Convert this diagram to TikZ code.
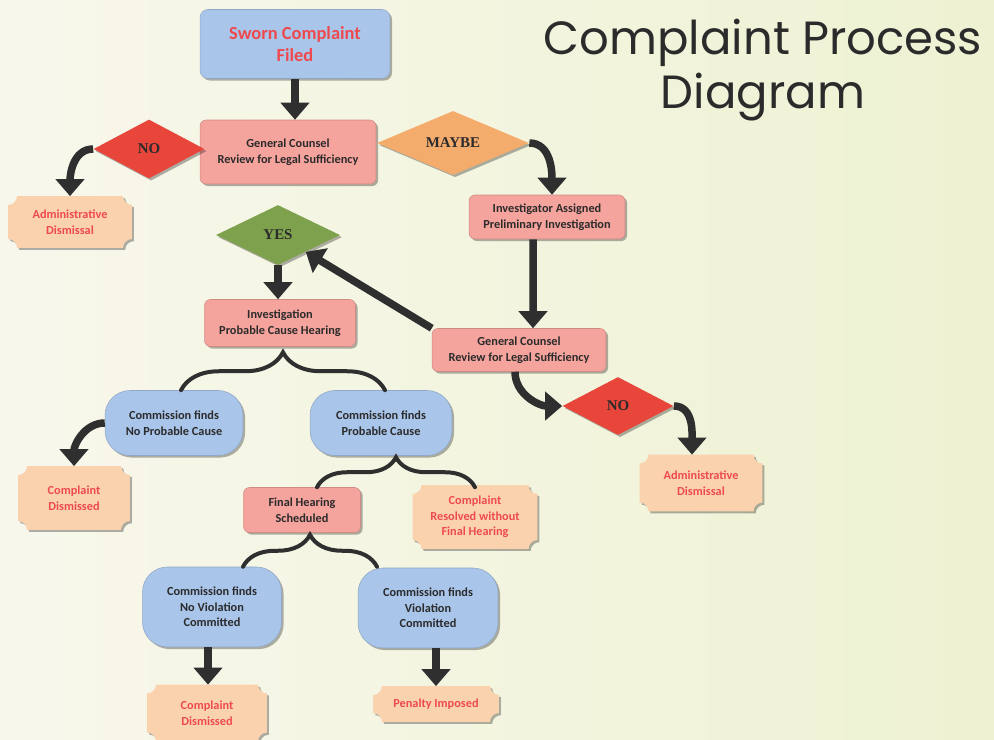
\documentclass[tikz,border=0pt]{standalone}
\usepackage{fontspec}
\setmainfont{Carlito}
\newfontfamily\titlefont{Poppins}
\newfontfamily\choicefont{Liberation Serif}
\usepackage{tikz}
\usetikzlibrary{arrows.meta, positioning, shapes.geometric, shadows, decorations.pathreplacing, calc}

\definecolor{boxblue}{HTML}{A9C5EA}
\definecolor{boxpink}{HTML}{F5A39D}
\definecolor{boxpeach}{HTML}{FAD3AE}
\definecolor{txtred}{HTML}{EE4A4E}
\definecolor{txtdark}{HTML}{2B2B2B}
\definecolor{noRed}{HTML}{E8453B}
\definecolor{maybeOrange}{HTML}{F4AC6C}
\definecolor{yesGreen}{HTML}{7EA14D}
\definecolor{arrowgray}{HTML}{2F2F2F}
\definecolor{bgleft}{HTML}{F8F7EC}
\definecolor{bgright}{HTML}{EEF2D2}

\pgfdeclarelayer{bg}
\pgfsetlayers{bg,main}

% peach boxes with hollow corners
\newcommand{\plaque}[1]{%
  \fill[plqfill] ([xshift=5pt]#1.north west) -- ([xshift=-5pt]#1.north east)
    .. controls ([shift={(-5pt,-2.75pt)}]#1.north east) and ([shift={(-2.75pt,-5pt)}]#1.north east) .. ([yshift=-5pt]#1.north east)
    -- ([yshift=5pt]#1.south east)
    .. controls ([shift={(-2.75pt,5pt)}]#1.south east) and ([shift={(-5pt,2.75pt)}]#1.south east) .. ([xshift=-5pt]#1.south east)
    -- ([xshift=5pt]#1.south west)
    .. controls ([shift={(5pt,2.75pt)}]#1.south west) and ([shift={(2.75pt,5pt)}]#1.south west) .. ([yshift=5pt]#1.south west)
    -- ([yshift=-5pt]#1.north west)
    .. controls ([shift={(2.75pt,-5pt)}]#1.north west) and ([shift={(5pt,-2.75pt)}]#1.north west) .. ([xshift=5pt]#1.north west)
    -- cycle;}

\begin{document}
\begin{tikzpicture}[
  x=0.02cm, y=-0.02cm,
  soft/.style={drop shadow={shadow xshift=1.2pt, shadow yshift=-1.2pt, opacity=0.3, fill=black}},
  base/.style={align=center, inner sep=2pt, text=txtdark,
              font=\fontsize{7}{8.8}\selectfont\bfseries},
  pinkbox/.style={base, soft, fill=boxpink, draw=boxpink!85!black, line width=0.3pt,
              rounded corners=0.12cm},
  bluebox/.style={base, soft, fill=boxblue, draw=boxblue!85!black, line width=0.3pt,
              rounded corners=0.5cm},
  plq/.style={base, text=txtred},
  plqfill/.style={boxpeach, soft},
  choice/.style={diamond, soft, inner sep=0pt, text=txtdark,
              font=\choicefont\fontsize{8.5}{10}\selectfont\bfseries},
  arr/.style={-{Triangle[width=0.56cm, length=0.34cm]}, line width=0.15cm, arrowgray},
  brc/.style={decorate, decoration={brace, amplitude=#1}, line width=0.08cm,
              arrowgray, line cap=round},
  title/.style={align=center, text=txtdark, font=\titlefont\fontsize{26.5}{31}\selectfont}
]
\useasboundingbox (0,0) rectangle (994,740);
\begin{pgfonlayer}{bg}
  \fill[left color=bgleft, right color=bgright] (0,0) rectangle (994,740);
\end{pgfonlayer}

\node[title] (title) at (763,70) {Complaint Process\\Diagram};

% top
\node[bluebox, minimum width=3.8cm, minimum height=1.38cm, rounded corners=0.16cm,
      text=txtred, font=\fontsize{10.5}{12.8}\selectfont\bfseries] (sworn) at (295,44) {Sworn Complaint\\Filed};
\node[pinkbox, minimum width=3.52cm, minimum height=1.28cm] (gcA) at (288,152) {General Counsel\\Review for Legal Sufficiency};
\node[choice, fill=noRed, minimum width=2.22cm, minimum height=1.18cm] (noA) at (149,149) {NO};
\node[choice, fill=maybeOrange, minimum width=3.04cm, minimum height=1.18cm] (maybe) at (453,143) {MAYBE};
\node[plq, minimum width=2.46cm, minimum height=1.02cm] (admA) at (70,222) {Administrative\\Dismissal};

% preliminary branch
\node[pinkbox, minimum width=3.12cm, minimum height=0.88cm] (inv) at (547,217) {Investigator Assigned\\Preliminary Investigation};
\node[pinkbox, minimum width=3.48cm, minimum height=0.86cm] (gcB) at (519,350) {General Counsel\\Review for Legal Sufficiency};
\node[choice, fill=noRed, minimum width=2.22cm, minimum height=1.16cm] (noB) at (618,406) {NO};
\node[plq, minimum width=2.44cm, minimum height=1.12cm] (admB) at (701,483) {Administrative\\Dismissal};

% probable cause
\node[choice, fill=yesGreen, minimum width=2.48cm, minimum height=1.2cm] (yes) at (278,235) {YES};
\node[pinkbox, minimum width=3.02cm, minimum height=0.94cm] (pch) at (280,323) {Investigation\\Probable Cause Hearing};
\node[bluebox, minimum width=2.76cm, minimum height=1.3cm] (npc) at (174,423) {Commission finds\\No Probable Cause};
\node[bluebox, minimum width=2.84cm, minimum height=1.3cm] (pc) at (381,423) {Commission finds\\Probable Cause};
\node[plq, minimum width=2.22cm, minimum height=1.26cm] (cdA) at (74,498) {Complaint\\Dismissed};
\node[pinkbox, minimum width=2.34cm, minimum height=0.9cm] (fhs) at (302,510) {Final Hearing\\Scheduled};
\node[plq, minimum width=2.48cm, minimum height=1.26cm] (res) at (475,517) {Complaint\\Resolved without\\Final Hearing};

% final hearing
\node[bluebox, minimum width=2.78cm, minimum height=1.6cm] (nvc) at (212,607) {Commission finds\\No Violation\\Committed};
\node[bluebox, minimum width=2.8cm, minimum height=1.6cm] (vc) at (428,608) {Commission finds\\Violation\\Committed};
\node[plq, minimum width=2.38cm, minimum height=1.12cm] (cdB) at (207,713) {Complaint\\Dismissed};
\node[plq, minimum width=2.5cm, minimum height=0.7cm] (pen) at (436,704) {Penalty Imposed};

\begin{pgfonlayer}{bg}
  \foreach \p in {admA, admB, cdA, res, cdB, pen} {\plaque{\p}}
\end{pgfonlayer}

% arrows
\draw[arr] (sworn.south) -- (sworn.south |- gcA.north);
\draw[arr] (noA.west) to[out=180, in=90] (admA.north);
\draw[arr] (maybe.east) to[out=0, in=90] ([xshift=0.1cm]inv.north);
\draw[arr] ([xshift=-0.28cm]inv.south) -- ([xshift=0.28cm]gcB.north);
\draw[arr] (gcB.north west) -- (yes);
\draw[arr] ([xshift=-0.08cm]gcB.south) to[out=-90, in=180] (noB.west);
\draw[arr] (noB.east) to[out=0, in=90] ([xshift=-0.18cm]admB.north);
\draw[arr] (yes.south) -- (yes.south |- pch.north);
\draw[arr] (npc.west) to[out=180, in=90] (cdA.north);
\draw[arr] ([xshift=-0.08cm]nvc.south) -- ([xshift=-0.08cm]nvc.south |- cdB.north);
\draw[arr] (pen.north |- vc.south) -- (pen.north);

% braces
\draw[brc=0.76cm] ([xshift=0.14cm]npc.north) -- ([xshift=0.08cm]pc.north);
\draw[brc=0.6cm] ([xshift=0.3cm]fhs.north) -- (fhs.north -| res.north);
\draw[brc=0.64cm] ([xshift=0.62cm]nvc.north) -- ($(nvc.north -| vc.north)+(-1.02cm,0)$);
\end{tikzpicture}
\end{document}
